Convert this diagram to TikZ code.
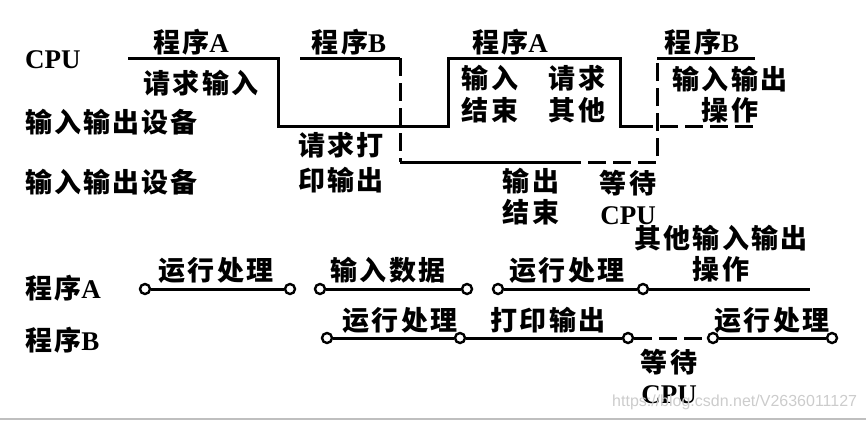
\documentclass[tikz,border=0pt]{standalone}
\usepackage{fontspec}
\setmainfont{Liberation Serif}
\newfontfamily\cjk{Noto Sans CJK SC}[LetterSpace=8]
\newfontfamily\wmfont{Liberation Sans}
\usepackage{tikz}
\usetikzlibrary{positioning}

\newcommand{\zh}[1]{{\cjk #1}}

\tikzset{
  txt/.style={font=\fontsize{27}{31}\selectfont\bfseries, inner sep=0pt, align=center},
  sig/.style={line width=3pt, line join=miter},
  sigdash/.style={sig, dash pattern=on 18pt off 7pt},
  knot/.style={circle, draw, fill=white, line width=2.4pt, minimum size=10pt, inner sep=0pt}
}

\begin{document}
\begin{tikzpicture}[x=1pt, y=-1pt]
  \useasboundingbox (0,0) rectangle (866,421);

  % Zeitdiagramm oben: CPU und Geraete
  \coordinate (a0) at (128,58);
  \coordinate (a1) at (278,58);
  \coordinate (a2) at (278,126);
  \coordinate (a3) at (448,126);
  \coordinate (a4) at (448,58);
  \coordinate (a5) at (620,58);
  \coordinate (a6) at (620,126);
  \coordinate (a7) at (635,126);
  \coordinate (a8) at (757,126);
  \draw[sig] (a0) -- (a1) -- (a2) -- (a3) -- (a4) -- (a5) -- (a6) -- (a7);
  \draw[sigdash] (a7) -- (a8);

  \coordinate (b0) at (300,58);
  \coordinate (b1) at (400,58);
  \coordinate (b2) at (400,162);
  \coordinate (b3) at (563,162);
  \coordinate (b4) at (657,162);
  \coordinate (b5) at (657,58);
  \coordinate (b6) at (755,58);
  \draw[sig] (b0) -- (b1);
  \draw[sigdash] (b1) -- (b2);
  \draw[sig] (b2) -- (b3);
  \draw[sigdash] (b3) -- (b4) -- (b5);
  \draw[sig] (b5) -- (b6);

  \node[txt, anchor=west] (cpu) at (25,60) {CPU};
  \node[txt, anchor=west] (dev1) at (25,122) {\zh{输入输出设备}};
  \node[txt, anchor=west] (dev2) at (25,182) {\zh{输入输出设备}};
  \node[txt] (pA1) at (191,42) {\zh{程序}A};
  \node[txt] (pB1) at (349,42) {\zh{程序}B};
  \node[txt] (reqin) at (201,83) {\zh{请求输入}};
  \node[txt] (reqpr) at (341,163) {\zh{请求打}\\[4pt]\zh{印输出}};
  \node[txt] (pA2) at (510,42) {\zh{程序}A};
  \node[txt] (inend) at (490,94) {\zh{输入}\\[1pt]\zh{结束}};
  \node[txt] (reqot) at (577,94) {\zh{请求}\\[1pt]\zh{其他}};
  \node[txt] (pB2) at (702,42) {\zh{程序}B};
  \node[txt] (ioop) at (730,95) {\zh{输入输出}\\\zh{操作}};
  \node[txt] (outend) at (531,197) {\zh{输出}\\\zh{结束}};
  \node[txt] (wait1) at (628,197) {\zh{等待}\\CPU};

  % Zeitachsen unten: Programm A und B
  \node[txt, anchor=west] (progA) at (25,288) {\zh{程序}A};
  \node[txt, anchor=west] (progB) at (25,340) {\zh{程序}B};

  \coordinate (pa6) at (810,289);
  \node[knot] (pa0) at (145,289) {};
  \node[knot] (pa1) at (290,289) {};
  \node[knot] (pa2) at (320,289) {};
  \node[knot] (pa3) at (467,289) {};
  \node[knot] (pa4) at (498,289) {};
  \node[knot] (pa5) at (643,289) {};
  \draw[sig] (pa0) -- (pa1);
  \draw[sig] (pa2) -- (pa3);
  \draw[sig] (pa4) -- (pa5) -- (pa6);

  \node[knot] (pb0) at (327,338) {};
  \node[knot] (pb1) at (460,338) {};
  \node[knot] (pb2) at (628,338) {};
  \node[knot] (pb3) at (713,338) {};
  \node[knot] (pb4) at (832,338) {};
  \draw[sig] (pb0) -- (pb1) -- (pb2);
  \draw[sigdash] (pb2) -- (pb3);
  \draw[sig] (pb3) -- (pb4);

  \node[txt] (runA1) at (216,270) {\zh{运行处理}};
  \node[txt] (inA) at (388,270) {\zh{输入数据}};
  \node[txt] (runA2) at (567,270) {\zh{运行处理}};
  \node[txt] (otherA) at (721,254) {\zh{其他输入输出}\\\zh{操作}};
  \node[txt] (runB1) at (400,320) {\zh{运行处理}};
  \node[txt] (prB) at (548,320) {\zh{打印输出}};
  \node[txt] (runB2) at (772,320) {\zh{运行处理}};
  \node[txt] (wait2) at (669,376) {\zh{等待}\\CPU};

  % Wasserzeichen und Rand
  \node[anchor=west, text=black!20, font=\wmfont\fontsize{16}{16}\selectfont, inner sep=0pt] (wm) at (612,402) {https://blog.csdn.net/V2636011127};
  \draw[black!25, line width=1.5pt] (0,419) -- (866,419);
\end{tikzpicture}
\end{document}
